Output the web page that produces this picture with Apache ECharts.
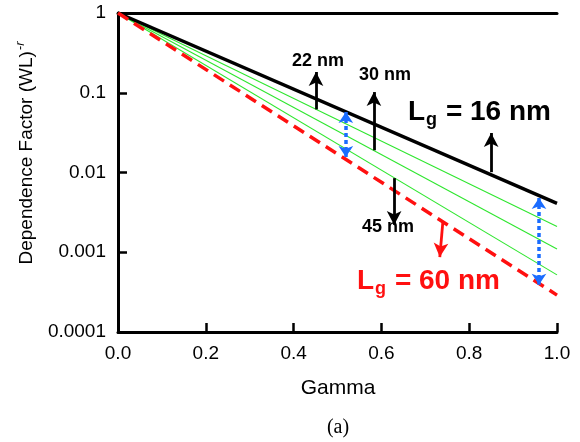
<!DOCTYPE html>
<html><head><meta charset="utf-8">
<script src="https://cdn.jsdelivr.net/npm/echarts@6/dist/echarts.min.js"></script>
<style>html,body{margin:0;padding:0;background:#fff}#c{width:580px;height:442px}</style>
</head><body><div id="c"></div>
<script>
// Data (gamma from 0 to 1, dependence factor on log scale)
var gammaValues = [0, 1];
var lg16 = [1, 0.0041];
var lg22 = [1, 0.0021];
var lg30 = [1, 0.0011];
var lg45 = [1, 0.00052];
var lg60 = [1, 0.00029];
var xTickLabels = ['0.0', '0.2', '0.4', '0.6', '0.8', '1.0'];
var yTickLabels = ['0.0001', '0.001', '0.01', '0.1', '1'];

// Annotation arrows in data coordinates: [x, yFrom, x2, yTo]
var blackArrows = [
  [0.451, 0.0618, 0.451, 0.182],
  [0.583, 0.019, 0.583, 0.102],
  [0.629, 0.0085, 0.629, 0.0022],
  [0.850, 0.0101, 0.850, 0.0313]
];
var redArrows = [[0.740, 0.0024, 0.733, 0.00087]];
var blueArrows = [
  [0.519, 0.0574, 0.519, 0.0156],
  [0.959, 0.0048, 0.959, 0.00039]
];

function pairs(ys) { return gammaValues.map(function (g, i) { return [g, ys[i]]; }); }
function arrowData(arr) {
  return arr.map(function (a) { return [{ coord: [a[0], a[1]] }, { coord: [a[2], a[3]] }]; });
}
var FONT = '"Liberation Sans", Arial, Helvetica, sans-serif';

var chart = echarts.init(document.getElementById('c'));
var green = '#2ee62e';
var option = {
  animation: false,
  backgroundColor: '#fff',
  grid: { left: 118, top: 13, right: 23, bottom: 110 },
  xAxis: [{
    type: 'value', min: 0, max: 1, interval: 0.2,
    axisLine: { lineStyle: { color: '#000', width: 3 } },
    axisTick: { inside: true, length: 9, lineStyle: { color: '#000', width: 2.5 } },
    axisLabel: { color: '#000', fontSize: 19, fontFamily: FONT, margin: 12,
      formatter: function (v) { return xTickLabels[Math.round(v / 0.2)]; } },
    splitLine: { show: false }
  }, {
    type: 'value', position: 'top', min: 0, max: 1,
    axisLine: { show: true, lineStyle: { color: '#000', width: 3 } },
    axisTick: { show: false }, axisLabel: { show: false }, splitLine: { show: false }
  }],
  yAxis: [{
    type: 'log', logBase: 10, min: 0.0001, max: 1,
    axisLine: { show: true, lineStyle: { color: '#000', width: 3 } },
    axisTick: { inside: true, length: 9, lineStyle: { color: '#000', width: 2.5 } },
    axisLabel: { color: '#000', fontSize: 19, fontFamily: FONT, margin: 12,
      formatter: function (v) { var i = Math.round(Math.log10(v)) + 4; return yTickLabels[i]; } },
    splitLine: { show: false }, minorTick: { show: false }
  }, {
    type: 'log', logBase: 10, min: 0.0001, max: 1, position: 'right',
    axisLine: { show: true, lineStyle: { color: '#000', width: 3 } },
    axisTick: { show: false }, axisLabel: { show: false }, splitLine: { show: false }
  }],
  series: [
    { type: 'line', data: pairs(lg22), symbol: 'none', lineStyle: { color: green, width: 1.1 } },
    { type: 'line', data: pairs(lg30), symbol: 'none', lineStyle: { color: green, width: 1.1 } },
    { type: 'line', data: pairs(lg45), symbol: 'none', lineStyle: { color: green, width: 1.1 } },
    { type: 'line', data: pairs(lg16), symbol: 'none', lineStyle: { color: '#000', width: 3.5 } },
    { type: 'line', data: pairs(lg60), symbol: 'none', lineStyle: { color: '#ff1010', width: 3.5, type: [12, 7] } },
    { type: 'line', data: [], markLine: { silent: true, symbol: ['none', 'arrow'], symbolSize: [11, 14],
        label: { show: false }, lineStyle: { color: '#000', width: 2.8, type: 'solid' }, data: arrowData(blackArrows) } },
    { type: 'line', data: [], markLine: { silent: true, symbol: ['none', 'arrow'], symbolSize: [11, 14],
        label: { show: false }, lineStyle: { color: '#ff1010', width: 2.8, type: 'solid' }, data: arrowData(redArrows) } },
    { type: 'line', data: [], markLine: { silent: true, symbol: ['arrow', 'arrow'], symbolSize: [11, 11],
        label: { show: false }, lineStyle: { color: '#1a6cff', width: 3.5, type: [4, 3] }, data: arrowData(blueArrows) } }
  ],
  graphic: [
    { type: 'text', x: 318, y: 61, style: { text: '22 nm', font: 'bold 18px ' + FONT, fill: '#000', align: 'center', verticalAlign: 'middle' } },
    { type: 'text', x: 385, y: 75, style: { text: '30 nm', font: 'bold 18px ' + FONT, fill: '#000', align: 'center', verticalAlign: 'middle' } },
    { type: 'text', x: 388, y: 227, style: { text: '45 nm', font: 'bold 18px ' + FONT, fill: '#000', align: 'center', verticalAlign: 'middle' } },
    { type: 'text', x: 408, y: 98, style: { text: '{m|L}{s|g}{m| = 16 nm}', fill: '#000', align: 'left', verticalAlign: 'top',
        rich: { m: { fontSize: 28, fontWeight: 'bold', fontFamily: FONT, lineHeight: 32, verticalAlign: 'top', fill: '#000' },
                s: { fontSize: 18, fontWeight: 'bold', fontFamily: FONT, lineHeight: 32, verticalAlign: 'top', padding: [13, 1, 0, 1], fill: '#000' } } } },
    { type: 'text', x: 357, y: 267, style: { text: '{m|L}{s|g}{m| = 60 nm}', fill: '#ff1010', align: 'left', verticalAlign: 'top',
        rich: { m: { fontSize: 28, fontWeight: 'bold', fontFamily: FONT, lineHeight: 32, verticalAlign: 'top', fill: '#ff1010' },
                s: { fontSize: 18, fontWeight: 'bold', fontFamily: FONT, lineHeight: 32, verticalAlign: 'top', padding: [13, 1, 0, 1], fill: '#ff1010' } } } },
    { type: 'text', x: 338, y: 388, style: { text: 'Gamma', font: '21px ' + FONT, fill: '#000', align: 'center', verticalAlign: 'middle' } },
    { type: 'text', x: 338, y: 428, style: { text: '(a)', font: '20px "Liberation Serif", "Times New Roman", serif', fill: '#000', align: 'center', verticalAlign: 'middle' } },
    { type: 'text', x: 25, y: 153, rotation: Math.PI / 2, style: { text: '{a|Dependence Factor (WL)}{s|-r}', fill: '#000', align: 'center', verticalAlign: 'middle',
        rich: { a: { fontSize: 19, fontFamily: FONT, lineHeight: 22, verticalAlign: 'bottom', fill: '#000' },
                s: { fontSize: 13, fontStyle: 'italic', fontFamily: FONT, lineHeight: 22, verticalAlign: 'top', padding: [0, 0, 8, 1], fill: '#000' } } } }
  ]
};
chart.setOption(option);
</script></body></html>
